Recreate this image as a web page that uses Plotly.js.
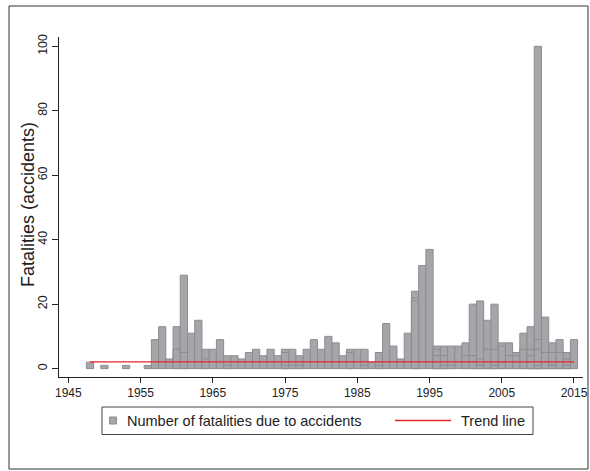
<!DOCTYPE html>
<html>
<head>
<meta charset="utf-8">
<script src="https://cdn.plot.ly/plotly-3.0.1.min.js"></script>
<style>
  html, body { margin: 0; padding: 0; background: #ffffff; }
  #chart { width: 590px; height: 471px; }
</style>
</head>
<body>
<div id="chart"></div>
<script>
// Annual fatalities due to accidents (tallest bar per year)
var years = [1948, 1950, 1953, 1956, 1957, 1958, 1959, 1960, 1961, 1962, 1963, 1964, 1965, 1966, 1967, 1968, 1969, 1970,
             1971, 1972, 1973, 1974, 1975, 1976, 1977, 1978, 1979, 1980, 1981, 1982, 1983, 1984, 1985, 1986, 1987, 1988,
             1989, 1990, 1991, 1992, 1993, 1994, 1995, 1996, 1997, 1998, 1999, 2000, 2001, 2002, 2003, 2004, 2005, 2006,
             2007, 2008, 2009, 2010, 2011, 2012, 2013, 2014, 2015];
var fatalities = [2, 1, 1, 1, 9, 13, 3, 13, 29, 11, 15, 6, 6, 9, 4, 4, 3, 5,
                  6, 4, 6, 4, 6, 6, 4, 6, 9, 6, 10, 8, 4, 6, 6, 6, 2, 5,
                  14, 7, 3, 11, 24, 32, 37, 7, 7, 7, 7, 8, 20, 21, 15, 20, 8, 8,
                  5, 11, 13, 100, 16, 8, 9, 5, 9];

// Smaller overlapping bars visible inside the year bars
var overlapYears = [1960, 1961, 1964, 1967, 1975, 1975, 1976, 1977, 1984, 1986, 1988, 1993, 1993, 1996, 1996, 1997, 1997,
                    1998, 2000, 2001, 2002, 2002, 2003, 2004, 2004, 2005, 2006, 2007, 2008, 2009, 2009, 2010, 2010, 2010,
                    2011, 2012, 2012, 2013, 2014, 2014];
var overlapValues = [6, 5, 3, 1, 5, 1, 1, 1, 5, 1, 1, 22, 21, 6, 4, 4, 1,
                     1, 4, 4, 3, 1, 6, 6, 1, 7, 4, 4, 6, 6, 4, 9, 6, 1,
                     5, 5, 1, 5, 3, 1];

// Trend line
var trendYears = [1948, 2015];
var trendValues = [2.1, 2.1];

// Axis ticks
var xTicks = [1945, 1955, 1965, 1975, 1985, 1995, 2005, 2015];
var yTicks = [0, 20, 40, 60, 80, 100];

// Labels
var yTitle = 'Fatalities (accidents)';
var barLabel = 'Number of fatalities due to accidents';
var trendLabel = 'Trend line';

// sort overlaps so larger ones are drawn first
var ov = overlapYears.map(function (y, i) { return { x: y, v: overlapValues[i] }; });
ov.sort(function (a, b) { return b.v - a.v; });

var barFill = '#a6a6aa';
var barLine = '#8d8d91';
var red = '#e3262c';
var ink = '#222222';
var font = 'Liberation Sans, Arial, Helvetica, sans-serif';

var traces = [
  {
    type: 'bar', x: years, y: fatalities, width: 1, name: barLabel, showlegend: false,
    marker: { color: barFill, line: { color: barLine, width: 1 } }, hoverinfo: 'x+y'
  },
  {
    type: 'bar', x: ov.map(function (d) { return d.x; }), y: ov.map(function (d) { return d.v; }),
    width: 1, name: 'overlap', showlegend: false,
    marker: { color: barFill, line: { color: barLine, width: 1 } }, hoverinfo: 'x+y'
  },
  {
    type: 'scatter', mode: 'lines', x: trendYears, y: trendValues, name: trendLabel, showlegend: false,
    line: { color: red, width: 1.3 }
  }
];

var pxL = 59, pxR = 583, pxT = 37, pxB = 377;
function px2x(p) { return (p - pxL) / (pxR - pxL); }
function px2y(p) { return (pxB - p) / (pxB - pxT); }

var legendFont = { size: 14.5, family: font, color: ink };

var layout = {
  width: 590,
  height: 471,
  margin: { l: pxL, r: 590 - pxR, t: pxT, b: 471 - pxB, pad: 0 },
  paper_bgcolor: '#ffffff',
  plot_bgcolor: '#ffffff',
  barmode: 'overlay',
  bargap: 0,
  showlegend: false,
  font: { family: font, color: ink, size: 12 },
  xaxis: {
    range: [1943.71, 2016.25],
    tickmode: 'array', tickvals: xTicks, ticktext: xTicks.map(String),
    ticks: 'outside', ticklen: 5, tickwidth: 1, tickcolor: ink,
    showline: true, linecolor: ink, linewidth: 1,
    showgrid: false, zeroline: false,
    tickfont: { size: 12, family: font, color: ink }
  },
  yaxis: {
    range: [-2.6, 102.9],
    tickmode: 'array', tickvals: yTicks, ticktext: yTicks.map(String),
    tickangle: -90,
    ticks: 'outside', ticklen: 6, tickwidth: 1, tickcolor: ink,
    showline: true, linecolor: ink, linewidth: 1,
    showgrid: false, zeroline: false,
    tickfont: { size: 12.4, family: font, color: ink }
  },
  shapes: [
    { type: 'rect', xref: 'paper', yref: 'paper',
      x0: px2x(9), x1: px2x(588), y0: px2y(469), y1: px2y(6),
      line: { color: '#333333', width: 1 }, fillcolor: 'rgba(0,0,0,0)', layer: 'below' },
    // legend box
    { type: 'rect', xref: 'paper', yref: 'paper',
      x0: px2x(102), x1: px2x(533), y0: px2y(434.5), y1: px2y(407),
      line: { color: '#444444', width: 1 }, fillcolor: '#ffffff', layer: 'above' },
    // legend bar key
    { type: 'rect', xref: 'paper', yref: 'paper',
      x0: px2x(109.5), x1: px2x(116.5), y0: px2y(424), y1: px2y(417),
      line: { color: barLine, width: 1 }, fillcolor: barFill, layer: 'above' },
    // legend trend key
    { type: 'line', xref: 'paper', yref: 'paper',
      x0: px2x(395), x1: px2x(451), y0: px2y(420.5), y1: px2y(420.5),
      line: { color: red, width: 1.3 }, layer: 'above' }
  ],
  annotations: [
    { xref: 'paper', yref: 'paper', x: px2x(28), y: px2y(205), xanchor: 'center', yanchor: 'middle',
      text: yTitle, textangle: -90, showarrow: false, font: { size: 18, family: font, color: ink } },
    { xref: 'paper', yref: 'paper', x: px2x(124.5), y: px2y(420.5), xanchor: 'left', yanchor: 'middle',
      text: barLabel, showarrow: false, font: legendFont },
    { xref: 'paper', yref: 'paper', x: px2x(459), y: px2y(420.5), xanchor: 'left', yanchor: 'middle',
      text: trendLabel, showarrow: false, font: legendFont }
  ]
};

Plotly.newPlot('chart', traces, layout, { displayModeBar: false, staticPlot: true });
</script>
</body>
</html>
